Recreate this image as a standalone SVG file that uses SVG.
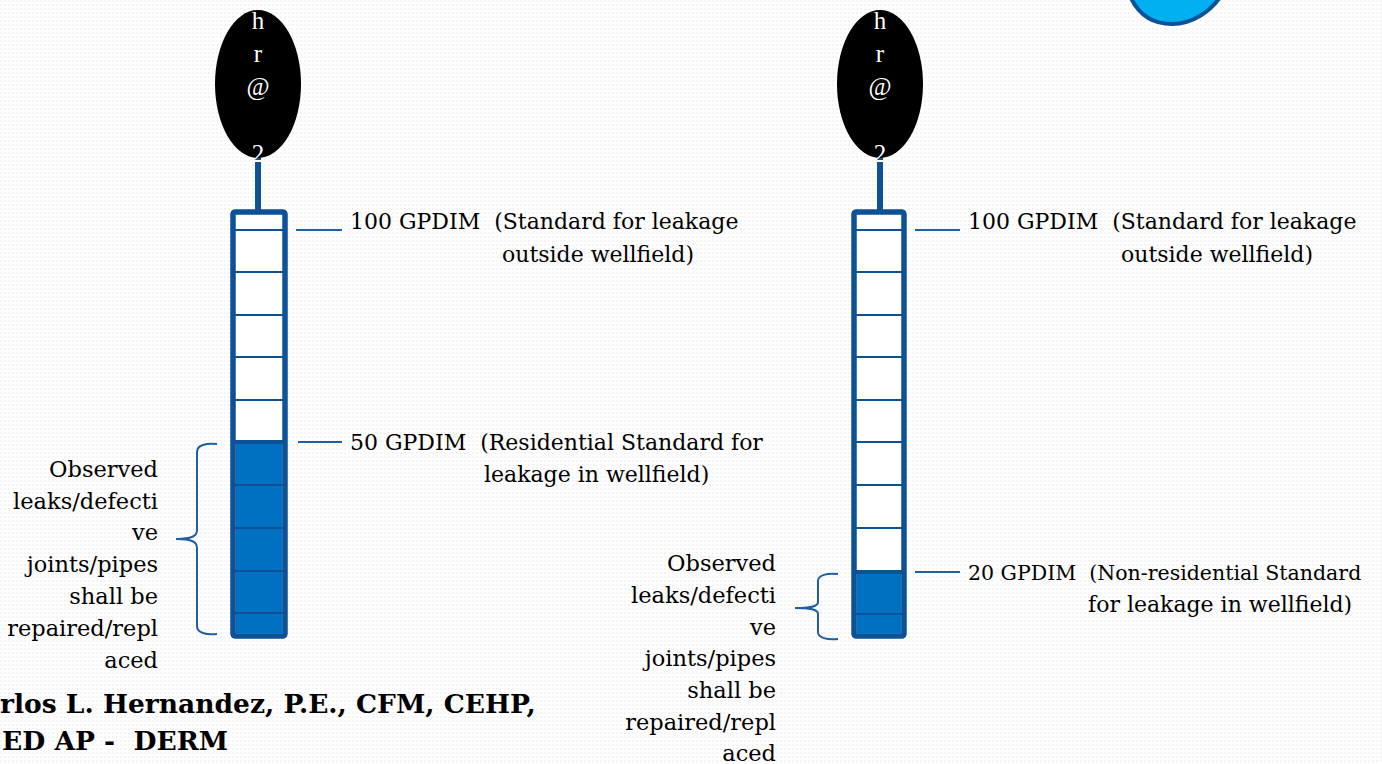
<svg xmlns="http://www.w3.org/2000/svg" width="1382" height="764" viewBox="0 0 1382 764">
<defs>
<pattern id="bg" width="4" height="4" patternUnits="userSpaceOnUse">
<rect width="4" height="4" fill="#fefefe"/>
<rect x="0" y="0" width="2" height="2" fill="#f5f5f5"/>
</pattern>
<style>
.tube{fill:#ffffff;stroke:#0d5196;stroke-width:5;stroke-linejoin:round}
.fill{fill:#0070c0}
.div{stroke:#0d5196;stroke-width:2}
.thick{stroke:#0d5196;stroke-width:4}
.stem{stroke:#0d5196;stroke-width:6}
.lead{stroke:#1f5fa3;stroke-width:2;fill:none}
.brace{stroke:#1f5fa3;stroke-width:2;fill:none}
.bulb{fill:#000000}
.bt{font-family:"Liberation Serif","DejaVu Serif",serif;font-size:25px;fill:#ffffff;text-anchor:middle}
.lbl{font-family:"DejaVu Serif","Liberation Serif",serif;font-size:22px;fill:#000000}
.obs{font-family:"DejaVu Serif","Liberation Serif",serif;font-size:22.5px;fill:#000000;text-anchor:end}
.auth{font-family:"DejaVu Serif","Liberation Serif",serif;font-size:26.5px;font-weight:bold;fill:#000000}
</style>
</defs>
<rect width="1382" height="764" fill="url(#bg)"/>

<g id="drop">
<path d="M1130,-4 C1138,14 1152,24 1172,24 C1192,24 1210,12 1221,-4 Z" fill="#00b0f0" stroke="#0d5196" stroke-width="4"/>
</g>

<g id="thermo-left">
<line class="stem" x1="258" y1="150" x2="258" y2="213"/>
<ellipse class="bulb" cx="258" cy="84" rx="43" ry="74"/>
<text class="bt" x="258" y="29">h</text>
<text class="bt" x="258" y="62">r</text>
<text class="bt" x="258" y="95">@</text>
<text class="bt" x="258" y="162">2</text>
<rect class="tube" x="233" y="212" width="52" height="424" rx="2"/>
<rect class="fill" x="235.5" y="442" width="47" height="191.5"/>
<line class="div" x1="235" y1="230" x2="283" y2="230"/>
<line class="div" x1="235" y1="272" x2="283" y2="272"/>
<line class="div" x1="235" y1="315" x2="283" y2="315"/>
<line class="div" x1="235" y1="357" x2="283" y2="357"/>
<line class="div" x1="235" y1="400" x2="283" y2="400"/>
<line class="thick" x1="235" y1="442" x2="283" y2="442"/>
<line class="div" x1="235" y1="485" x2="283" y2="485"/>
<line class="div" x1="235" y1="528" x2="283" y2="528"/>
<line class="div" x1="235" y1="571" x2="283" y2="571"/>
<line class="div" x1="235" y1="613" x2="283" y2="613"/>
<rect x="233" y="212" width="52" height="424" rx="2" fill="none" stroke="#0d5196" stroke-width="5"/>
</g>

<g id="thermo-right">
<line class="stem" x1="880" y1="150" x2="880" y2="213"/>
<ellipse class="bulb" cx="880" cy="84" rx="43" ry="74"/>
<text class="bt" x="880" y="29">h</text>
<text class="bt" x="880" y="62">r</text>
<text class="bt" x="880" y="95">@</text>
<text class="bt" x="880" y="162">2</text>
<rect class="tube" x="854" y="212" width="50" height="424" rx="2"/>
<rect class="fill" x="856.5" y="572" width="45" height="61.5"/>
<line class="div" x1="856" y1="230" x2="902" y2="230"/>
<line class="div" x1="856" y1="272" x2="902" y2="272"/>
<line class="div" x1="856" y1="315" x2="902" y2="315"/>
<line class="div" x1="856" y1="357" x2="902" y2="357"/>
<line class="div" x1="856" y1="400" x2="902" y2="400"/>
<line class="div" x1="856" y1="442" x2="902" y2="442"/>
<line class="div" x1="856" y1="485" x2="902" y2="485"/>
<line class="div" x1="856" y1="528" x2="902" y2="528"/>
<line class="thick" x1="856" y1="572" x2="902" y2="572"/>
<line class="div" x1="856" y1="614" x2="902" y2="614"/>
<rect x="854" y="212" width="50" height="424" rx="2" fill="none" stroke="#0d5196" stroke-width="5"/>
</g>

<g id="connectors">
<line class="lead" x1="296" y1="230" x2="342" y2="230"/>
<line class="lead" x1="298" y1="442" x2="342" y2="442"/>
<line class="lead" x1="915" y1="230" x2="960" y2="230"/>
<line class="lead" x1="915" y1="572" x2="960" y2="572"/>
<path class="brace" d="M217,444 C206,443 197,445 197,452 L197,530 C197,536 192,539 176,539 C192,539 197,542 197,548 L197,626 C197,633 206,635 217,634"/>
<path class="brace" d="M838,574 C827,573 818,575 818,581 L818,602 C818,606 813,608 795,608 C813,608 818,610 818,614 L818,632 C818,638 827,640 838,639"/>
</g>

<g id="label-left-100">
<text class="lbl" x="350" y="229">100 GPDIM &#160;(Standard for leakage</text>
<text class="lbl" x="502" y="262">outside wellfield)</text>
</g>
<g id="label-left-50">
<text class="lbl" x="350" y="450">50 GPDIM &#160;(Residential Standard for</text>
<text class="lbl" x="484" y="482">leakage in wellfield)</text>
</g>
<g id="label-right-100">
<text class="lbl" x="968" y="229">100 GPDIM &#160;(Standard for leakage</text>
<text class="lbl" x="1121" y="262">outside wellfield)</text>
</g>
<g id="label-right-20">
<text class="lbl" x="968" y="580" style="font-size:20.5px">20 GPDIM &#160;(Non-residential Standard</text>
<text class="lbl" x="1088" y="612">for leakage in wellfield)</text>
</g>

<g id="observed-left">
<text class="obs" x="158" y="477">Observed</text>
<text class="obs" x="158" y="509">leaks/defecti</text>
<text class="obs" x="158" y="540">ve</text>
<text class="obs" x="158" y="572">joints/pipes</text>
<text class="obs" x="158" y="604">shall be</text>
<text class="obs" x="158" y="636">repaired/repl</text>
<text class="obs" x="158" y="668">aced</text>
</g>
<g id="observed-right">
<text class="obs" x="776" y="571">Observed</text>
<text class="obs" x="776" y="603">leaks/defecti</text>
<text class="obs" x="776" y="635">ve</text>
<text class="obs" x="776" y="666">joints/pipes</text>
<text class="obs" x="776" y="698">shall be</text>
<text class="obs" x="776" y="730">repaired/repl</text>
<text class="obs" x="776" y="761">aced</text>
</g>

<g id="author">
<text class="auth" x="0" y="713">rlos L. Hernandez, P.E., CFM, CEHP,</text>
<text class="auth" x="2" y="750">ED AP - &#160;DERM</text>
</g>
</svg>
